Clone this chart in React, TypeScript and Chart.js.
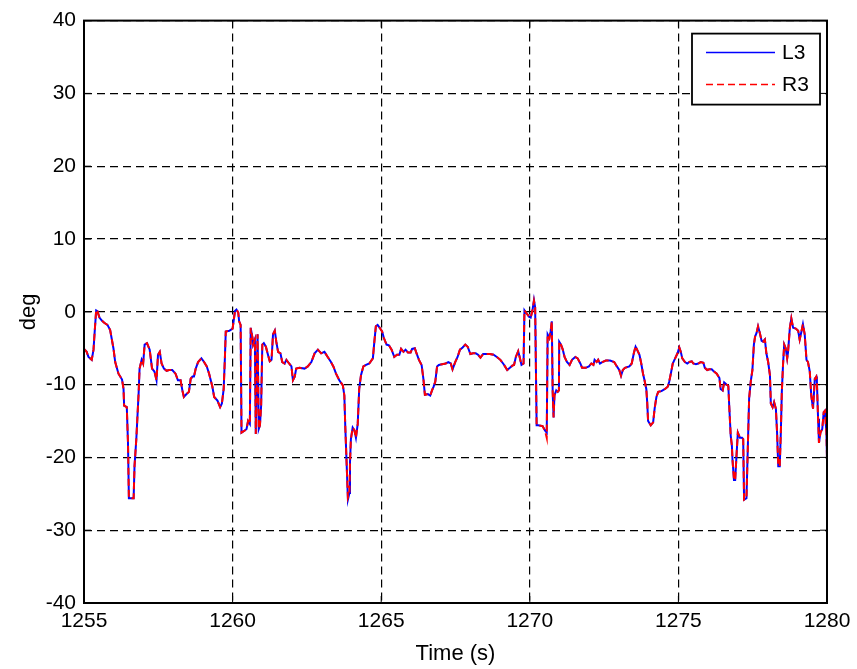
import { useEffect, useRef } from "react";
import { Chart, registerables } from "chart.js";

Chart.register(...registerables);

// Sample times (s)
const time = [
  1255.0, 1255.09, 1255.15, 1255.26, 1255.32, 1255.36, 1255.41, 1255.45, 1255.52, 1255.6, 1255.68, 1255.79, 1255.88, 1255.99,
  1256.05, 1256.16, 1256.28, 1256.33, 1256.35, 1256.44, 1256.48, 1256.51, 1256.67, 1256.7, 1256.76, 1256.84, 1256.87, 1256.94, 1256.99,
  1257.04, 1257.12, 1257.21, 1257.29, 1257.37, 1257.44, 1257.49, 1257.55, 1257.61, 1257.69, 1257.78, 1257.86, 1257.97,
  1258.08, 1258.16, 1258.25, 1258.31, 1258.36, 1258.45, 1258.53, 1258.59, 1258.65, 1258.7, 1258.76, 1258.84, 1258.95,
  1259.04, 1259.13, 1259.21, 1259.32, 1259.38, 1259.49, 1259.58, 1259.64, 1259.7, 1259.74, 1259.77, 1259.89,
  1260.0, 1260.08, 1260.13, 1260.19, 1260.22, 1260.27, 1260.3, 1260.41, 1260.47, 1260.52, 1260.58, 1260.61, 1260.67, 1260.69, 1260.75, 1260.78, 1260.84, 1260.88, 1260.92, 1260.96,
  1261.0, 1261.05, 1261.12, 1261.19, 1261.25, 1261.31, 1261.36, 1261.42, 1261.47, 1261.53, 1261.61, 1261.67, 1261.75, 1261.81, 1261.9, 1261.98,
  1262.03, 1262.09, 1262.14, 1262.25, 1262.42, 1262.53, 1262.65, 1262.76, 1262.87, 1262.98,
  1263.09, 1263.2, 1263.31, 1263.39, 1263.48, 1263.59, 1263.71, 1263.76, 1263.79, 1263.84, 1263.88, 1263.93, 1263.95, 1263.98,
  1264.04, 1264.1, 1264.15, 1264.21, 1264.26, 1264.32, 1264.4, 1264.49, 1264.6, 1264.72, 1264.77, 1264.82, 1264.88, 1264.95,
  1265.03, 1265.09, 1265.18, 1265.26, 1265.35, 1265.44, 1265.53, 1265.61, 1265.67, 1265.75, 1265.82, 1265.9, 1265.99,
  1266.04, 1266.13, 1266.19, 1266.27, 1266.36, 1266.42, 1266.47, 1266.57, 1266.65, 1266.71, 1266.76, 1266.82, 1266.88, 1266.94,
  1267.05, 1267.17, 1267.26, 1267.34, 1267.4, 1267.49, 1267.57, 1267.65, 1267.74, 1267.83, 1267.91,
  1268.0, 1268.09, 1268.18, 1268.26, 1268.34, 1268.43, 1268.55, 1268.66, 1268.78, 1268.89,
  1269.01, 1269.12, 1269.24, 1269.33, 1269.41, 1269.47, 1269.53, 1269.61, 1269.67, 1269.72, 1269.79, 1269.82, 1269.89, 1269.98,
  1270.03, 1270.09, 1270.14, 1270.18, 1270.23, 1270.28, 1270.43, 1270.51, 1270.57, 1270.6, 1270.66, 1270.7, 1270.74, 1270.77, 1270.8, 1270.83, 1270.89, 1270.94, 1270.98,
  1270.99, 1271.05, 1271.11, 1271.17, 1271.25, 1271.34, 1271.42, 1271.53, 1271.61, 1271.7, 1271.76, 1271.88, 1271.99,
  1272.07, 1272.14, 1272.18, 1272.25, 1272.3, 1272.36, 1272.44, 1272.56, 1272.7, 1272.84, 1272.93,
  1273.01, 1273.07, 1273.13, 1273.2, 1273.35, 1273.43, 1273.5, 1273.56, 1273.61, 1273.69, 1273.75, 1273.81, 1273.86, 1273.92, 1273.95, 1273.98,
  1274.07, 1274.15, 1274.2, 1274.26, 1274.32, 1274.43, 1274.55, 1274.64, 1274.69, 1274.75, 1274.81, 1274.89, 1274.97,
  1275.03, 1275.08, 1275.13, 1275.22, 1275.3, 1275.37, 1275.45, 1275.5, 1275.59, 1275.67, 1275.75, 1275.84, 1275.89, 1275.97,
  1276.04, 1276.12, 1276.17, 1276.29, 1276.38, 1276.42, 1276.49, 1276.54, 1276.62, 1276.68, 1276.71, 1276.76, 1276.8, 1276.82, 1276.87, 1276.91, 1276.96,
  1277.0, 1277.07, 1277.14, 1277.18, 1277.21, 1277.29, 1277.34, 1277.38, 1277.44, 1277.49, 1277.54, 1277.58, 1277.63, 1277.68, 1277.74, 1277.8, 1277.85, 1277.91, 1277.96,
  1278.02, 1278.08, 1278.11, 1278.17, 1278.22, 1278.28, 1278.32, 1278.36, 1278.41, 1278.45, 1278.48, 1278.52, 1278.56, 1278.61, 1278.66, 1278.69, 1278.75, 1278.8, 1278.86, 1278.95,
  1279.03, 1279.08, 1279.14, 1279.19, 1279.25, 1279.31, 1279.36, 1279.42, 1279.47, 1279.53, 1279.59, 1279.64, 1279.66, 1279.7, 1279.73, 1279.78, 1279.84, 1279.89, 1279.93, 1279.98, 1280.0,
];

// L3 angle (deg)
const l3Deg = [
  -5.1, -5.5, -6.2, -6.6, -5.2, -2.7, 0.2, 0.1, -0.8, -1.2, -1.5, -1.8, -2.5, -5.0,
  -6.9, -8.5, -9.3, -10.6, -12.9, -13.1, -18.0, -25.6, -25.6, -21.2, -17.5, -11.0, -7.8, -6.6, -7.1,
  -4.5, -4.3, -5.2, -7.8, -8.2, -9.4, -5.9, -5.5, -7.1, -7.8, -8.1, -8.0, -8.0,
  -8.5, -9.4, -9.4, -10.8, -11.7, -11.3, -11.0, -9.2, -8.9, -8.9, -7.8, -6.9, -6.4,
  -6.9, -7.5, -8.5, -10.3, -11.7, -12.2, -13.1, -12.6, -10.6, -6.4, -2.7, -2.6,
  -2.3, 0.1, 0.3, -0.1, -1.3, -1.8, -16.6, -16.3, -16.1, -15.0, -15.4, -2.2, -3.6, -4.5, -3.8, -16.8, -3.1, -16.1, -15.6, -12.9,
  -4.5, -4.3, -4.8, -5.9, -6.8, -6.6, -3.1, -2.6, -4.1, -5.5, -5.7, -6.9, -7.1, -6.6, -7.1, -7.5,
  -9.4, -8.9, -7.8, -7.7, -7.8, -7.5, -6.9, -5.7, -5.2, -5.7,
  -5.5, -6.2, -6.9, -7.5, -8.5, -9.4, -10.1, -11.5, -15.6, -21.2, -25.8, -24.9, -20.7, -17.5,
  -15.9, -16.3, -17.3, -15.4, -10.6, -8.7, -7.5, -7.3, -7.1, -6.4, -4.1, -2.0, -1.8, -2.2,
  -2.7, -3.6, -4.5, -4.6, -5.2, -6.2, -5.9, -5.9, -5.1, -5.5, -5.2, -5.6, -5.6,
  -5.1, -5.0, -5.7, -6.6, -7.3, -9.2, -11.4, -11.3, -11.5, -10.8, -10.3, -9.6, -7.5, -7.3,
  -7.2, -7.1, -6.9, -7.1, -7.9, -6.9, -6.2, -5.2, -4.9, -4.5, -4.8,
  -5.8, -5.7, -5.7, -5.9, -6.3, -5.8, -5.8, -5.8, -5.9, -6.2,
  -6.6, -7.2, -8.0, -7.7, -7.4, -7.3, -6.2, -5.4, -6.4, -7.3, -7.1, 0.2, -0.2, -0.7,
  -0.8, 0.2, 1.6, 0.6, -15.6, -15.6, -15.7, -16.3, -16.6, -3.1, -3.6, -2.7, -1.3, -11.0, -14.5, -11.5, -10.8, -11.0, -10.8,
  -4.1, -4.5, -5.2, -6.2, -6.9, -7.3, -6.6, -6.2, -6.4, -7.1, -7.7, -7.7, -7.5,
  -7.1, -7.3, -6.6, -6.9, -6.6, -7.1, -6.9, -6.7, -6.7, -6.9, -7.5,
  -8.0, -8.8, -8.0, -7.7, -7.5, -7.1, -5.7, -4.8, -5.2, -5.9, -7.1, -8.5, -9.4, -10.6, -12.4, -15.0,
  -15.6, -15.2, -13.3, -11.7, -11.0, -10.9, -10.6, -10.3, -9.6, -8.4, -7.1, -6.4, -5.7,
  -4.9, -5.5, -6.4, -6.9, -7.1, -6.9, -6.8, -7.1, -7.2, -7.1, -6.9, -7.0, -7.7, -8.0,
  -7.9, -7.9, -8.1, -8.5, -9.1, -10.6, -10.8, -9.7, -10.0, -10.2, -12.9, -17.0, -18.4, -20.3, -23.1, -23.1, -19.4,
  -16.6, -17.3, -17.3, -17.5, -25.8, -25.6, -18.0, -11.9, -9.4, -8.0, -4.5, -3.4, -2.9, -2.0, -2.9, -4.0, -4.1, -3.8, -5.7,
  -6.9, -8.7, -12.6, -13.1, -12.4, -13.3, -16.6, -21.2, -21.2, -16.1, -11.0, -7.3, -4.5, -5.0, -6.4, -5.5, -2.2, -0.9, -2.2, -2.3,
  -2.6, -3.8, -2.7, -1.7, -3.1, -6.6, -6.9, -8.2, -11.5, -13.3, -9.2, -8.9, -9.6, -14.7, -18.0, -16.6, -16.1, -13.8, -13.6, -16.6, -20.3,
];

// R3 angle (deg)
const r3Deg = [
  -5.1, -5.5, -6.2, -6.6, -5.2, -2.7, 0.3, 0.1, -0.8, -1.2, -1.5, -1.8, -2.5, -5.0,
  -6.9, -8.5, -9.3, -10.6, -12.9, -13.1, -18.0, -25.6, -25.6, -21.2, -17.5, -11.0, -7.8, -6.6, -7.1,
  -4.5, -4.3, -5.2, -7.8, -8.2, -9.4, -5.9, -5.5, -7.1, -7.8, -8.1, -8.0, -8.0,
  -8.5, -9.4, -9.4, -10.8, -11.7, -11.3, -11.0, -9.2, -8.9, -8.9, -7.8, -6.9, -6.4,
  -6.9, -7.5, -8.5, -10.3, -11.7, -12.2, -13.1, -12.6, -10.6, -6.4, -2.7, -2.6,
  -2.3, 0.1, 0.3, -0.1, -1.3, -1.8, -16.6, -16.3, -16.1, -15.0, -15.4, -2.2, -3.6, -4.5, -3.8, -16.8, -3.1, -16.1, -15.6, -12.9,
  -4.5, -4.3, -4.8, -5.9, -6.8, -6.6, -3.1, -2.6, -4.1, -5.5, -5.7, -6.9, -7.1, -6.6, -7.1, -7.5,
  -9.4, -8.9, -7.8, -7.7, -7.8, -7.5, -6.9, -5.7, -5.2, -5.7,
  -5.5, -6.2, -6.9, -7.5, -8.5, -9.4, -10.1, -11.5, -15.6, -21.2, -25.5, -24.9, -20.7, -17.5,
  -15.9, -16.3, -17.3, -15.4, -10.6, -8.7, -7.5, -7.3, -7.1, -6.4, -4.1, -2.0, -1.8, -2.2,
  -2.7, -3.6, -4.5, -4.6, -5.2, -6.2, -5.9, -5.9, -5.1, -5.5, -5.2, -5.6, -5.6,
  -5.1, -5.0, -5.7, -6.6, -7.3, -9.2, -11.4, -11.3, -11.5, -10.8, -10.3, -9.6, -7.5, -7.3,
  -7.2, -7.1, -6.9, -7.1, -7.9, -6.9, -6.2, -5.2, -4.9, -4.5, -4.8,
  -5.8, -5.7, -5.7, -5.9, -6.3, -5.8, -5.8, -5.8, -5.9, -6.2,
  -6.6, -7.2, -8.0, -7.7, -7.4, -7.3, -6.2, -5.4, -6.4, -7.3, -7.1, 0.2, -0.2, -0.7,
  -0.8, 0.2, 1.5, 0.6, -15.6, -15.6, -15.7, -16.3, -17.3, -3.1, -3.6, -2.7, -1.3, -11.0, -14.5, -11.5, -10.8, -11.0, -10.8,
  -4.1, -4.5, -5.2, -6.2, -6.9, -7.3, -6.6, -6.2, -6.4, -7.1, -7.7, -7.7, -7.5,
  -7.1, -7.3, -6.6, -6.9, -6.6, -7.1, -6.9, -6.7, -6.7, -6.9, -7.5,
  -8.0, -8.8, -8.0, -7.7, -7.5, -7.1, -5.7, -4.7, -5.2, -5.9, -7.1, -8.5, -9.4, -10.6, -12.4, -15.0,
  -15.6, -15.2, -13.3, -11.7, -11.0, -10.9, -10.6, -10.3, -9.6, -8.4, -7.1, -6.4, -5.7,
  -4.9, -5.5, -6.4, -6.9, -7.1, -6.9, -6.8, -7.1, -7.2, -7.1, -6.9, -7.0, -7.7, -8.0,
  -7.9, -7.9, -8.1, -8.5, -9.1, -10.6, -10.8, -9.7, -10.0, -10.2, -12.9, -17.0, -18.4, -20.3, -23.1, -23.1, -19.4,
  -16.6, -17.3, -17.3, -17.5, -25.8, -25.6, -18.0, -11.9, -9.4, -8.0, -4.5, -3.4, -2.9, -2.0, -2.9, -4.0, -4.1, -3.8, -5.7,
  -6.9, -8.7, -12.6, -13.1, -12.4, -13.3, -16.6, -21.2, -21.2, -16.1, -11.0, -7.3, -4.5, -5.0, -6.4, -5.5, -2.2, -0.9, -2.2, -2.3,
  -2.6, -3.8, -2.7, -1.7, -3.1, -6.6, -6.9, -8.2, -11.5, -13.3, -9.2, -8.9, -9.6, -14.7, -18.0, -16.6, -16.1, -13.8, -13.6, -16.6, -20.3,
];

const seriesNames = ["L3", "R3"];
const xTicks = [1255, 1260, 1265, 1270, 1275, 1280];
const yTicks = [-40, -30, -20, -10, 0, 10, 20, 30, 40];
const xTitle = "Time (s)";
const yTitle = "deg";

const FONT = "'Liberation Sans', Arial, Helvetica, sans-serif";
const BLUE = "rgb(0,0,255)";
const RED = "rgb(255,0,0)";
const RED_DASH = [7, 4];

// Axes box, inward tick marks and the boxed legend in the upper right corner
const framePlugin = {
  id: "framePlugin",
  afterDraw(chart: any) {
    const { ctx, chartArea: a, scales } = chart;
    ctx.save();
    ctx.strokeStyle = "#000";
    ctx.lineWidth = 1;
    ctx.setLineDash([]);
    const seg = (x1: number, y1: number, x2: number, y2: number) => {
      ctx.beginPath();
      ctx.moveTo(x1, y1);
      ctx.lineTo(x2, y2);
      ctx.stroke();
    };
    for (const v of xTicks) {
      const x = scales.x.getPixelForValue(v);
      seg(x, a.bottom, x, a.bottom - 7);
      seg(x, a.top, x, a.top + 7);
    }
    for (const v of yTicks) {
      const y = scales.y.getPixelForValue(v);
      seg(a.left, y, a.left + 7, y);
      seg(a.right, y, a.right - 7, y);
    }
    ctx.lineWidth = 2;
    ctx.strokeRect(a.left, a.top, a.right - a.left, a.bottom - a.top);

    // legend
    const lw = 128;
    const lh = 71;
    const lx = a.right - 7 - lw;
    const ly = a.top + 13;
    ctx.fillStyle = "#fff";
    ctx.fillRect(lx, ly, lw, lh);
    ctx.lineWidth = 1.8;
    ctx.strokeStyle = "#000";
    ctx.strokeRect(lx, ly, lw, lh);
    const rows = [
      { name: seriesNames[0], color: BLUE, dash: [] as number[], y: ly + 19 },
      { name: seriesNames[1], color: RED, dash: RED_DASH, y: ly + 51 },
    ];
    ctx.font = `21px ${FONT}`;
    ctx.textBaseline = "middle";
    ctx.textAlign = "left";
    for (const r of rows) {
      ctx.strokeStyle = r.color;
      ctx.lineWidth = 1.5;
      ctx.setLineDash(r.dash);
      seg(lx + 14, r.y, lx + 83, r.y);
      ctx.setLineDash([]);
      ctx.fillStyle = "#000";
      ctx.fillText(r.name, lx + 90, r.y + 1);
    }
    ctx.restore();
  },
};

export default function App() {
  const canvasRef = useRef<HTMLCanvasElement | null>(null);

  useEffect(() => {
    document.body.style.margin = "0";
    const canvas = canvasRef.current;
    if (!canvas) return;
    const chart = new Chart(canvas, {
      type: "line",
      data: {
        datasets: [
          {
            label: seriesNames[0],
            data: time.map((t, i) => ({ x: t, y: l3Deg[i] })),
            borderColor: BLUE,
            borderWidth: 2,
            pointRadius: 0,
            tension: 0,
            fill: false,
            order: 2,
          },
          {
            label: seriesNames[1],
            data: time.map((t, i) => ({ x: t, y: r3Deg[i] })),
            borderColor: RED,
            borderWidth: 2,
            borderDash: RED_DASH,
            pointRadius: 0,
            tension: 0,
            fill: false,
            order: 1,
          },
        ],
      },
      options: {
        animation: false,
        responsive: false,
        devicePixelRatio: 1,
        layout: { padding: { top: 17, right: 30, left: 0, bottom: 0 } },
        plugins: {
          legend: { display: false },
          tooltip: { enabled: false },
        },
        scales: {
          x: {
            type: "linear",
            min: 1255,
            max: 1280,
            afterFit: (s: any) => {
              s.height = 66;
            },
            afterBuildTicks: (s: any) => {
              s.ticks = xTicks.map((v) => ({ value: v }));
            },
            ticks: {
              color: "#000",
              font: { family: FONT, size: 21 },
              padding: 6,
              maxRotation: 0,
              autoSkip: false,
              callback: (v: any) => String(v),
            },
            grid: { color: "#000", lineWidth: 1.2, drawTicks: false },
            border: { display: false, dash: [8, 5] },
            title: {
              display: true,
              text: xTitle,
              color: "#000",
              font: { family: FONT, size: 22 },
              padding: { top: 0, bottom: 2 },
            },
          },
          y: {
            type: "linear",
            min: -40,
            max: 40,
            afterFit: (s: any) => {
              s.width = 84;
            },
            afterBuildTicks: (s: any) => {
              s.ticks = yTicks.map((v) => ({ value: v }));
            },
            ticks: {
              color: "#000",
              font: { family: FONT, size: 21 },
              padding: 8,
              autoSkip: false,
              callback: (v: any) => String(v),
            },
            grid: { color: "#000", lineWidth: 1.2, drawTicks: false },
            border: { display: false, dash: [8, 5] },
            title: {
              display: true,
              text: yTitle,
              color: "#000",
              font: { family: FONT, size: 22 },
              padding: { top: 16, bottom: 0 },
            },
          },
        },
      },
      plugins: [framePlugin],
    });
    return () => chart.destroy();
  }, []);

  return (
    <div style={{ width: 857, height: 669, background: "#fff" }}>
      <canvas ref={canvasRef} width={857} height={669} style={{ display: "block" }} />
    </div>
  );
}
